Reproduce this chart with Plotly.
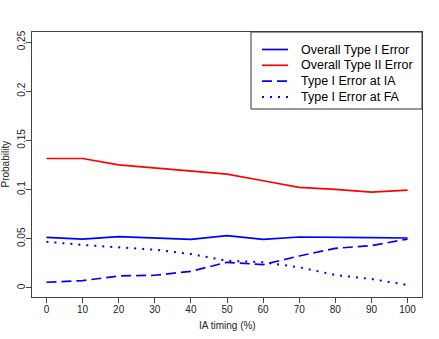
import plotly.graph_objects as go

ia_timing = [0, 10, 20, 30, 40, 50, 60, 70, 80, 90, 100]
overall_type1 = [0.0514, 0.0497, 0.0521, 0.0504, 0.0494, 0.0531, 0.0494, 0.0518, 0.0518, 0.0511, 0.0508]
overall_type2 = [0.1316, 0.1316, 0.1252, 0.1218, 0.1184, 0.1157, 0.1090, 0.1022, 0.1002, 0.0975, 0.0995]
type1_ia = [0.0058, 0.0074, 0.0122, 0.0129, 0.0169, 0.0261, 0.0237, 0.0325, 0.0403, 0.0430, 0.0497]
type1_fa = [0.0470, 0.0437, 0.0413, 0.0389, 0.0345, 0.0277, 0.0261, 0.0210, 0.0132, 0.0091, 0.0030]

series_names = ["Overall Type I Error", "Overall Type II Error", "Type I Error at IA", "Type I Error at FA"]

x_ticks = [0, 10, 20, 30, 40, 50, 60, 70, 80, 90, 100]
y_ticks = [0, 0.05, 0.1, 0.15, 0.2, 0.25]
y_tick_text = ["0", "0.05", "0.1", "0.15", "0.2", "0.25"]

FONT = "Liberation Sans, Arial, Helvetica, sans-serif"
BLUE = "#0000FF"
RED = "#FF0000"
LW = 1.7
styles = [
    dict(color=BLUE, width=LW, dash="solid"),
    dict(color=RED, width=LW, dash="solid"),
    dict(color=BLUE, width=LW, dash="10px,5px"),
    dict(color=BLUE, width=2, dash="2px,6px"),
]
series_values = [overall_type1, overall_type2, type1_ia, type1_fa]

W, H = 439, 339
ML, MR, MT, MB = 32, 17, 32, 42
PW, PH = W - ML - MR, H - MT - MB

fig = go.Figure()
for name, vals, st in zip(series_names, series_values, styles):
    fig.add_trace(go.Scatter(x=ia_timing, y=vals, mode="lines", name=name,
                             line=st, showlegend=False, hoverinfo="skip"))

# manual legend (R-style)
def px_x(px):
    return (px - ML) / PW

def px_y(py):
    return (H - MB - py) / PH

shapes = [dict(type="rect", xref="paper", yref="paper",
               x0=px_x(251), x1=1, y0=px_y(109), y1=1,
               line=dict(color="#333", width=1), fillcolor="white", layer="above")]
annotations = []
for i, (name, st) in enumerate(zip(series_names, styles)):
    yy = px_y(49.5 + 15.8 * i)
    shapes.append(dict(type="line", xref="paper", yref="paper",
                       x0=px_x(262), x1=px_x(288), y0=yy, y1=yy,
                       line=st, layer="above"))
    annotations.append(dict(text=name, xref="paper", yref="paper", x=px_x(299), y=yy,
                            xanchor="left", yanchor="middle", showarrow=False,
                            font=dict(size=12.5, color="black", family=FONT)))

annotations.append(dict(text="IA timing (%)", xref="paper", yref="paper", x=0.5, y=0,
                        xanchor="center", yanchor="middle", yshift=-(325 - (H - MB)),
                        showarrow=False, font=dict(size=10, color="#222", family=FONT)))
annotations.append(dict(text="Probability", xref="paper", yref="paper", x=0, y=0.5,
                        xanchor="center", yanchor="middle", xshift=-(ML - 5), textangle=-90,
                        showarrow=False, font=dict(size=10, color="#222", family=FONT)))

fig.update_layout(
    width=W, height=H,
    margin=dict(l=ML, r=MR, t=MT, b=MB, autoexpand=False),
    paper_bgcolor="white", plot_bgcolor="white",
    font=dict(family=FONT, size=10, color="#222"),
    showlegend=False,
    shapes=shapes, annotations=annotations,
)
fig.update_xaxes(range=[-4, 104], tickvals=x_ticks, ticks="outside", ticklen=5,
                 tickcolor="#444", showgrid=False, zeroline=False, automargin=False,
                 showline=True, mirror=True, linecolor="#444", linewidth=1,
                 tickfont=dict(size=10), ticklabelstandoff=-2)
fig.update_yaxes(range=[-0.0092, 0.2602], tickvals=y_ticks, ticktext=y_tick_text,
                 ticks="outside", ticklen=5, tickangle=-90, automargin=False,
                 tickcolor="#444", showgrid=False, zeroline=False,
                 showline=True, mirror=True, linecolor="#444", linewidth=1,
                 tickfont=dict(size=10), ticklabelstandoff=-3)

fig.write_html("out.html", config={"displayModeBar": False},
               post_script="document.body.style.margin='0';document.body.style.overflow='hidden';")
